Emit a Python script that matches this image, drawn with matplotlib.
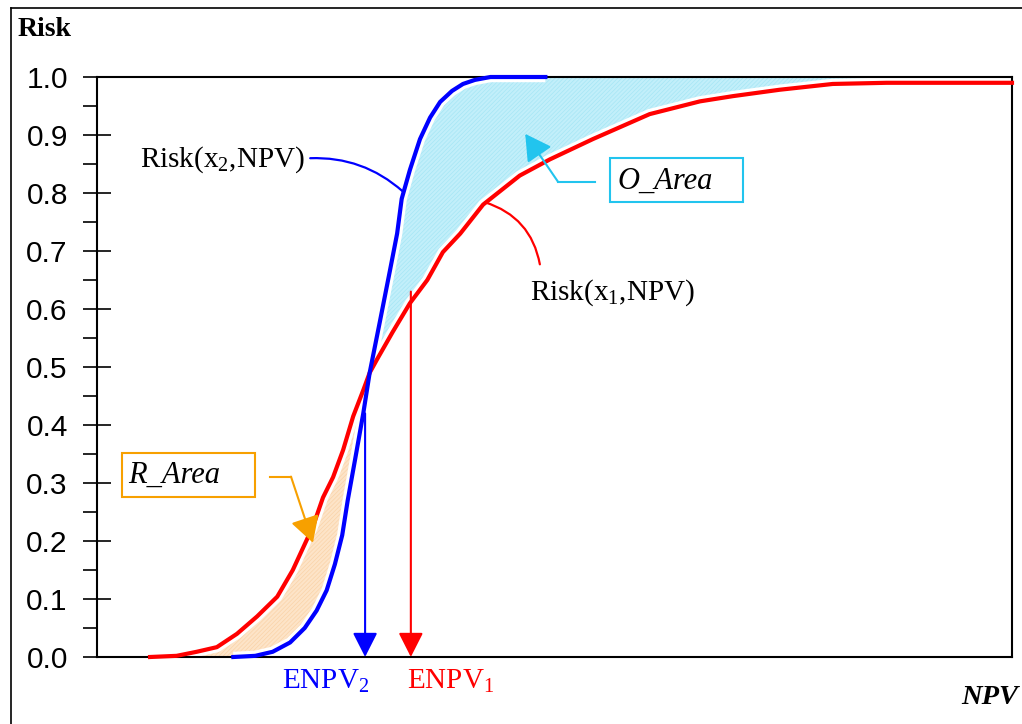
import numpy as np
import matplotlib
import matplotlib.pyplot as plt
from matplotlib.patches import Rectangle
from matplotlib.lines import Line2D
from matplotlib.ticker import MultipleLocator

plt.rcParams['mathtext.fontset'] = 'custom'
plt.rcParams['mathtext.rm'] = 'Liberation Serif'
plt.rcParams['mathtext.it'] = 'Liberation Serif:italic'
plt.rcParams['mathtext.bf'] = 'Liberation Serif:bold'
plt.rcParams['hatch.linewidth'] = 0.5

# ---- data (NPV in arbitrary units, risk = cumulative probability) ----
npv1 = [5.8, 8.7, 10.9, 13.1, 15.3, 17.5, 19.7, 21.4, 23.6, 24.7, 25.8, 26.9, 28.0,
        29.1, 29.8, 30.6, 32.3, 34.2, 36.1, 37.8, 39.7, 42.2, 46.2, 49.5, 54.2,
        60.4, 65.9, 69.5, 74.6, 80.4, 86.3, 100.0]
risk1 = [0.0, 0.002, 0.009, 0.017, 0.04, 0.07, 0.104, 0.15, 0.225, 0.275, 0.31, 0.357, 0.415,
         0.46, 0.49, 0.513, 0.56, 0.61, 0.65, 0.698, 0.73, 0.78, 0.83, 0.858, 0.893,
         0.936, 0.958, 0.967, 0.978, 0.988, 0.99, 0.99]

npv2 = [14.9, 17.3, 19.2, 21.1, 22.7, 24.0, 25.1, 26.0, 26.8, 27.4, 28.2, 29.1, 29.8,
        30.9, 32.0, 32.8, 33.3, 34.2, 35.3, 36.4, 37.5, 38.8, 40.0, 41.3, 43.0, 49.0]
risk2 = [0.0, 0.002, 0.009, 0.025, 0.05, 0.08, 0.115, 0.16, 0.21, 0.27, 0.34, 0.42, 0.49,
         0.577, 0.665, 0.73, 0.79, 0.84, 0.893, 0.93, 0.957, 0.976, 0.988, 0.995, 1.0, 1.0]

enpv1, enpv1_risk = 34.3, 0.63
enpv2, enpv2_risk = 29.3, 0.42

yticks = [0.0, 0.1, 0.2, 0.3, 0.4, 0.5, 0.6, 0.7, 0.8, 0.9, 1.0]
ytick_labels = ['0.0', '0.1', '0.2', '0.3', '0.4', '0.5', '0.6', '0.7', '0.8', '0.9', '1.0']

RED = '#ff0000'
BLUE = '#0000ff'
CYAN = '#22c4ee'
ORANGE = '#f7a000'
SERIF = 'Liberation Serif'

fig = plt.figure(figsize=(10.22, 7.24), dpi=100)
ax = fig.add_axes([97 / 1022, 67 / 724, 915 / 1022, 580 / 724])
ax.set_xlim(0, 100)
ax.set_ylim(0, 1)

# fills
grid = np.linspace(0, 100, 3001)
r1 = np.interp(grid, npv1, risk1, left=0.0, right=risk1[-1])
r2 = np.interp(grid, npv2, risk2, left=0.0, right=risk2[-1])
ax.fill_between(grid, r1, r2, where=r2 >= r1, interpolate=True,
                facecolor='#c2effa', edgecolor='#a6e6f5', hatch='////////', linewidth=0, zorder=1)
ax.fill_between(grid, r1, r2, where=r1 > r2, interpolate=True,
                facecolor='#fde4c8', edgecolor='#fad3a8', hatch='////////', linewidth=0, zorder=1)

# white halos then curves
ax.plot(npv1, risk1, color='white', lw=7.5, zorder=2, clip_on=False, solid_capstyle='butt')
ax.plot(npv2, risk2, color='white', lw=7.5, zorder=2, clip_on=False, solid_capstyle='butt')
ax.plot(npv1, risk1, color=RED, lw=3, zorder=3, clip_on=False)
ax.plot(npv2, risk2, color=BLUE, lw=3, zorder=3, clip_on=False)

# ENPV arrows
for xv, yv, col in [(enpv2, enpv2_risk, BLUE), (enpv1, enpv1_risk, RED)]:
    ax.annotate('', xy=(xv, 0), xytext=(xv, yv),
                arrowprops=dict(arrowstyle='-|>,head_length=0.75,head_width=0.38',
                                mutation_scale=20, color=col, lw=1.5,
                                shrinkA=0, shrinkB=0), zorder=4)

ax.text(enpv2 + 0.5, -0.042, r'ENPV$_2$', color=BLUE, fontsize=21, family=SERIF,
        ha='right', va='center', clip_on=False)
ax.text(enpv1 - 0.45, -0.042, r'ENPV$_1$', color=RED, fontsize=21, family=SERIF,
        ha='left', va='center', clip_on=False)

# curve labels with connectors
ax.text(4.7, 0.858, r'Risk(x$_2$,NPV)', fontsize=21, family=SERIF, ha='left', va='center')
ax.annotate('', xy=(33.4, 0.803), xytext=(23.3, 0.86),
            arrowprops=dict(arrowstyle='-', color=BLUE, lw=1.6,
                            connectionstyle='arc3,rad=-0.2', shrinkA=0, shrinkB=0))
ax.text(47.3, 0.628, r'Risk(x$_1$,NPV)', fontsize=21, family=SERIF, ha='left', va='center')
ax.annotate('', xy=(48.4, 0.677), xytext=(42.4, 0.784),
            arrowprops=dict(arrowstyle='-', color=RED, lw=1.6,
                            connectionstyle='arc3,rad=-0.3', shrinkA=0, shrinkB=0))

# O_Area box and arrow
ax.add_patch(Rectangle((56.1, 0.784), 14.5, 0.076, fill=False, edgecolor=CYAN, lw=1.5, zorder=5))
ax.text(56.9, 0.821, 'O_Area', fontsize=22, family=SERIF, style='italic',
        ha='left', va='center', zorder=5)
ax.plot([54.4, 50.4], [0.819, 0.819], color=CYAN, lw=1.5, zorder=5)
ax.annotate('', xy=(46.8, 0.902), xytext=(50.4, 0.819),
            arrowprops=dict(arrowstyle='-|>,head_length=0.8,head_width=0.45',
                            mutation_scale=20, color=CYAN, lw=1.5, shrinkA=0, shrinkB=0),
            zorder=5)

# R_Area box and arrow
ax.add_patch(Rectangle((2.7, 0.276), 14.6, 0.076, fill=False, edgecolor=ORANGE, lw=1.5, zorder=5))
ax.text(3.4, 0.313, 'R_Area', fontsize=22, family=SERIF, style='italic',
        ha='left', va='center', zorder=5)
ax.plot([18.9, 21.2], [0.311, 0.311], color=ORANGE, lw=1.5, zorder=5)
ax.annotate('', xy=(23.6, 0.197), xytext=(21.2, 0.311),
            arrowprops=dict(arrowstyle='-|>,head_length=0.8,head_width=0.45',
                            mutation_scale=20, color=ORANGE, lw=1.5, shrinkA=0, shrinkB=0),
            zorder=5)

# axes styling
ax.set_xticks([])
ax.set_yticks(yticks)
ax.set_yticklabels(ytick_labels, family='Liberation Sans', fontsize=21.5)
ax.yaxis.set_minor_locator(MultipleLocator(0.05))
ax.tick_params(axis='y', which='major', direction='inout', length=20, width=1.2, pad=11)
ax.tick_params(axis='y', which='minor', direction='out', length=10, width=1.2)
for s in ax.spines.values():
    s.set_linewidth(1.5)

# axis titles
fig.text(18 / 1022, 1 - 30 / 724, 'Risk', fontsize=20, family=SERIF, weight='bold',
         ha='left', va='center')
fig.text(1018 / 1022, 1 - 697 / 724, 'NPV', fontsize=20.5, family=SERIF, weight='bold',
         style='italic', ha='right', va='center')

# outer frame (top and left edges visible)
fig.add_artist(Line2D([10.5 / 1022, 1.0], [1 - 7.5 / 724, 1 - 7.5 / 724],
                      transform=fig.transFigure, color='black', lw=1.2))
fig.add_artist(Line2D([10.5 / 1022, 10.5 / 1022], [0.0, 1 - 7.5 / 724],
                      transform=fig.transFigure, color='black', lw=1.2))

fig.savefig('out.png', dpi=100)
